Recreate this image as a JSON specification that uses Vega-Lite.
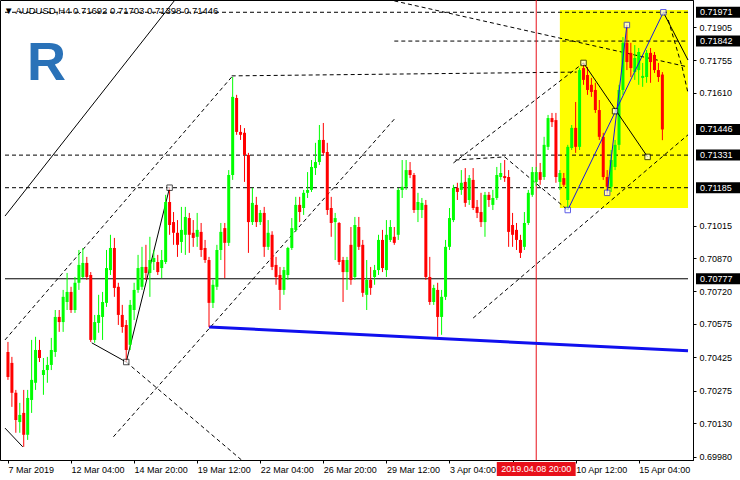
{
"$schema": "https://vega.github.io/schema/vega-lite/v6.json",
"width": 693, "height": 460,
"autosize": {"type": "none"},
"padding": {"left": 0, "top": 0, "right": 47, "bottom": 20},
"background": "white",
"config": {"view": {"stroke": "black", "strokeWidth": 1}, "font": "Liberation Sans"},
"title": {"text": "▼ AUDUSD,H4  0.71692 0.71703 0.71398 0.71446", "anchor": "start", "frame": "group", "offset": -16, "fontSize": 9.5, "fontWeight": "normal", "font": "Liberation Sans", "color": "black", "dx": 4},
"datasets": {
"candles": [
{"i":0,"o":0.70449,"h":0.70494,"l":0.70324,"c":0.70337},
{"i":1,"o":0.70400,"h":0.70427,"l":0.70203,"c":0.70266},
{"i":2,"o":0.70266,"h":0.70279,"l":0.70087,"c":0.70144},
{"i":3,"o":0.70135,"h":0.70221,"l":0.70087,"c":0.70167},
{"i":4,"o":0.70176,"h":0.70279,"l":0.70024,"c":0.70078},
{"i":5,"o":0.70078,"h":0.70279,"l":0.70055,"c":0.70243},
{"i":6,"o":0.70234,"h":0.70503,"l":0.70176,"c":0.70324},
{"i":7,"o":0.70311,"h":0.70517,"l":0.70279,"c":0.70458},
{"i":8,"o":0.70458,"h":0.70503,"l":0.70404,"c":0.70422},
{"i":9,"o":0.70346,"h":0.70422,"l":0.70257,"c":0.70368},
{"i":10,"o":0.70368,"h":0.70427,"l":0.70311,"c":0.70391},
{"i":11,"o":0.70391,"h":0.70512,"l":0.70368,"c":0.70458},
{"i":12,"o":0.70449,"h":0.70637,"l":0.70427,"c":0.70606},
{"i":13,"o":0.70606,"h":0.70637,"l":0.70539,"c":0.70583},
{"i":14,"o":0.70583,"h":0.70727,"l":0.70539,"c":0.70696},
{"i":15,"o":0.70673,"h":0.70803,"l":0.70637,"c":0.70718},
{"i":16,"o":0.70718,"h":0.70741,"l":0.70624,"c":0.70637},
{"i":17,"o":0.70637,"h":0.70785,"l":0.70624,"c":0.70759},
{"i":18,"o":0.70759,"h":0.70906,"l":0.70727,"c":0.70839},
{"i":19,"o":0.70785,"h":0.70915,"l":0.70780,"c":0.70848},
{"i":20,"o":0.70848,"h":0.70875,"l":0.70772,"c":0.70785},
{"i":21,"o":0.70794,"h":0.70807,"l":0.70494,"c":0.70503},
{"i":22,"o":0.70503,"h":0.70615,"l":0.70490,"c":0.70583},
{"i":23,"o":0.70579,"h":0.70705,"l":0.70535,"c":0.70615},
{"i":24,"o":0.70606,"h":0.70718,"l":0.70503,"c":0.70673},
{"i":25,"o":0.70669,"h":0.70906,"l":0.70651,"c":0.70825},
{"i":26,"o":0.70816,"h":0.70974,"l":0.70794,"c":0.70915},
{"i":27,"o":0.70915,"h":0.70960,"l":0.70696,"c":0.70736},
{"i":28,"o":0.70741,"h":0.70759,"l":0.70570,"c":0.70615},
{"i":29,"o":0.70615,"h":0.70660,"l":0.70535,"c":0.70561},
{"i":30,"o":0.70570,"h":0.70592,"l":0.70404,"c":0.70458},
{"i":31,"o":0.70481,"h":0.70682,"l":0.70458,"c":0.70660},
{"i":32,"o":0.70637,"h":0.70759,"l":0.70592,"c":0.70727},
{"i":33,"o":0.70727,"h":0.70884,"l":0.70714,"c":0.70825},
{"i":34,"o":0.70741,"h":0.70920,"l":0.70727,"c":0.70830},
{"i":35,"o":0.70830,"h":0.70929,"l":0.70772,"c":0.70803},
{"i":36,"o":0.70803,"h":0.70965,"l":0.70696,"c":0.70861},
{"i":37,"o":0.70852,"h":0.70906,"l":0.70816,"c":0.70870},
{"i":38,"o":0.70852,"h":0.70884,"l":0.70794,"c":0.70807},
{"i":39,"o":0.70825,"h":0.70906,"l":0.70780,"c":0.70861},
{"i":40,"o":0.70852,"h":0.71153,"l":0.70843,"c":0.71121},
{"i":41,"o":0.71121,"h":0.71185,"l":0.70974,"c":0.71018},
{"i":42,"o":0.71031,"h":0.71076,"l":0.70929,"c":0.70983},
{"i":43,"o":0.70983,"h":0.71040,"l":0.70875,"c":0.70929},
{"i":44,"o":0.70942,"h":0.71099,"l":0.70893,"c":0.70996},
{"i":45,"o":0.70974,"h":0.71099,"l":0.70884,"c":0.71054},
{"i":46,"o":0.71049,"h":0.71072,"l":0.70893,"c":0.70974},
{"i":47,"o":0.70983,"h":0.71040,"l":0.70920,"c":0.70960},
{"i":48,"o":0.70965,"h":0.71072,"l":0.70920,"c":0.70996},
{"i":49,"o":0.70987,"h":0.71027,"l":0.70875,"c":0.70906},
{"i":50,"o":0.70915,"h":0.70951,"l":0.70848,"c":0.70861},
{"i":51,"o":0.70861,"h":0.70875,"l":0.70561,"c":0.70669},
{"i":52,"o":0.70669,"h":0.70772,"l":0.70646,"c":0.70750},
{"i":53,"o":0.70741,"h":0.70929,"l":0.70727,"c":0.70906},
{"i":54,"o":0.70906,"h":0.71027,"l":0.70861,"c":0.70987},
{"i":55,"o":0.71004,"h":0.71027,"l":0.70780,"c":0.70938},
{"i":56,"o":0.70938,"h":0.71264,"l":0.70924,"c":0.71242},
{"i":57,"o":0.71242,"h":0.71681,"l":0.71220,"c":0.71592},
{"i":58,"o":0.71587,"h":0.71601,"l":0.71422,"c":0.71435},
{"i":59,"o":0.71435,"h":0.71466,"l":0.71399,"c":0.71422},
{"i":60,"o":0.71431,"h":0.71452,"l":0.71211,"c":0.71332},
{"i":61,"o":0.71332,"h":0.71341,"l":0.70893,"c":0.71031},
{"i":62,"o":0.71031,"h":0.71184,"l":0.71018,"c":0.71117},
{"i":63,"o":0.71108,"h":0.71144,"l":0.71009,"c":0.71031},
{"i":64,"o":0.71031,"h":0.71085,"l":0.71018,"c":0.71072},
{"i":65,"o":0.71072,"h":0.71099,"l":0.70875,"c":0.70920},
{"i":66,"o":0.70920,"h":0.71040,"l":0.70906,"c":0.70983},
{"i":67,"o":0.70974,"h":0.70990,"l":0.70816,"c":0.70830},
{"i":68,"o":0.70839,"h":0.70875,"l":0.70750,"c":0.70785},
{"i":69,"o":0.70794,"h":0.70830,"l":0.70637,"c":0.70727},
{"i":70,"o":0.70727,"h":0.70830,"l":0.70705,"c":0.70816},
{"i":71,"o":0.70794,"h":0.70920,"l":0.70772,"c":0.70915},
{"i":72,"o":0.70915,"h":0.71049,"l":0.70906,"c":0.71004},
{"i":73,"o":0.70996,"h":0.71144,"l":0.70987,"c":0.71108},
{"i":74,"o":0.71108,"h":0.71144,"l":0.71031,"c":0.71076},
{"i":75,"o":0.71094,"h":0.71175,"l":0.71063,"c":0.71162},
{"i":76,"o":0.71162,"h":0.71255,"l":0.71139,"c":0.71175},
{"i":77,"o":0.71175,"h":0.71309,"l":0.71166,"c":0.71278},
{"i":78,"o":0.71273,"h":0.71386,"l":0.71242,"c":0.71300},
{"i":79,"o":0.71300,"h":0.71466,"l":0.71287,"c":0.71399},
{"i":80,"o":0.71399,"h":0.71475,"l":0.71332,"c":0.71341},
{"i":81,"o":0.71345,"h":0.71386,"l":0.71063,"c":0.71085},
{"i":82,"o":0.71094,"h":0.71144,"l":0.70965,"c":0.71027},
{"i":83,"o":0.71031,"h":0.71072,"l":0.70861,"c":0.71049},
{"i":84,"o":0.71027,"h":0.71031,"l":0.70839,"c":0.70852},
{"i":85,"o":0.70861,"h":0.70875,"l":0.70673,"c":0.70807},
{"i":86,"o":0.70807,"h":0.70875,"l":0.70727,"c":0.70861},
{"i":87,"o":0.70929,"h":0.71009,"l":0.70750,"c":0.70772},
{"i":88,"o":0.70785,"h":0.71054,"l":0.70772,"c":0.71018},
{"i":89,"o":0.71009,"h":0.71054,"l":0.70906,"c":0.70920},
{"i":90,"o":0.70929,"h":0.70951,"l":0.70696,"c":0.70714},
{"i":91,"o":0.70705,"h":0.70861,"l":0.70637,"c":0.70772},
{"i":92,"o":0.70772,"h":0.70830,"l":0.70705,"c":0.70736},
{"i":93,"o":0.70785,"h":0.70839,"l":0.70750,"c":0.70816},
{"i":94,"o":0.70816,"h":0.70974,"l":0.70794,"c":0.70951},
{"i":95,"o":0.70951,"h":0.70996,"l":0.70807,"c":0.70825},
{"i":96,"o":0.70816,"h":0.71040,"l":0.70785,"c":0.70974},
{"i":97,"o":0.70951,"h":0.71040,"l":0.70942,"c":0.71009},
{"i":98,"o":0.70965,"h":0.71009,"l":0.70929,"c":0.70938},
{"i":99,"o":0.70974,"h":0.71184,"l":0.70951,"c":0.71175},
{"i":100,"o":0.71175,"h":0.71309,"l":0.71139,"c":0.71189},
{"i":101,"o":0.71189,"h":0.71309,"l":0.71175,"c":0.71264},
{"i":102,"o":0.71264,"h":0.71300,"l":0.71228,"c":0.71242},
{"i":103,"o":0.71242,"h":0.71251,"l":0.71072,"c":0.71085},
{"i":104,"o":0.71085,"h":0.71162,"l":0.71031,"c":0.71121},
{"i":105,"o":0.71085,"h":0.71139,"l":0.71049,"c":0.71117},
{"i":106,"o":0.71108,"h":0.71130,"l":0.70772,"c":0.70785},
{"i":107,"o":0.70785,"h":0.70875,"l":0.70660,"c":0.70673},
{"i":108,"o":0.70673,"h":0.70750,"l":0.70660,"c":0.70736},
{"i":109,"o":0.70727,"h":0.70759,"l":0.70517,"c":0.70606},
{"i":110,"o":0.70606,"h":0.70727,"l":0.70526,"c":0.70696},
{"i":111,"o":0.70696,"h":0.70951,"l":0.70682,"c":0.70920},
{"i":112,"o":0.70920,"h":0.71094,"l":0.70906,"c":0.71049},
{"i":113,"o":0.71040,"h":0.71198,"l":0.71031,"c":0.71184},
{"i":114,"o":0.71184,"h":0.71207,"l":0.71130,"c":0.71166},
{"i":115,"o":0.71175,"h":0.71264,"l":0.71153,"c":0.71207},
{"i":116,"o":0.71211,"h":0.71273,"l":0.71099,"c":0.71117},
{"i":117,"o":0.71130,"h":0.71242,"l":0.71108,"c":0.71228},
{"i":118,"o":0.71220,"h":0.71273,"l":0.71085,"c":0.71094},
{"i":119,"o":0.71099,"h":0.71130,"l":0.71049,"c":0.71072},
{"i":120,"o":0.71076,"h":0.71162,"l":0.71009,"c":0.71031},
{"i":121,"o":0.71031,"h":0.71166,"l":0.70965,"c":0.71153},
{"i":122,"o":0.71153,"h":0.71166,"l":0.71099,"c":0.71130},
{"i":123,"o":0.71108,"h":0.71175,"l":0.71085,"c":0.71139},
{"i":124,"o":0.71139,"h":0.71278,"l":0.71130,"c":0.71242},
{"i":125,"o":0.71233,"h":0.71296,"l":0.71220,"c":0.71251},
{"i":126,"o":0.71237,"h":0.71309,"l":0.71211,"c":0.71228},
{"i":127,"o":0.71233,"h":0.71264,"l":0.70920,"c":0.70987},
{"i":128,"o":0.71018,"h":0.71072,"l":0.70920,"c":0.70974},
{"i":129,"o":0.70996,"h":0.71027,"l":0.70906,"c":0.70951},
{"i":130,"o":0.70951,"h":0.70974,"l":0.70870,"c":0.70893},
{"i":131,"o":0.70920,"h":0.71076,"l":0.70906,"c":0.71027},
{"i":132,"o":0.71027,"h":0.71175,"l":0.71018,"c":0.71162},
{"i":133,"o":0.71153,"h":0.71278,"l":0.71144,"c":0.71255},
{"i":134,"o":0.71211,"h":0.71278,"l":0.71193,"c":0.71255},
{"i":135,"o":0.71255,"h":0.71296,"l":0.71198,"c":0.71220},
{"i":136,"o":0.71233,"h":0.71413,"l":0.71220,"c":0.71377},
{"i":137,"o":0.71368,"h":0.71511,"l":0.71354,"c":0.71497},
{"i":138,"o":0.71497,"h":0.71520,"l":0.71457,"c":0.71479},
{"i":139,"o":0.71488,"h":0.71520,"l":0.71207,"c":0.71233},
{"i":140,"o":0.71211,"h":0.71264,"l":0.71175,"c":0.71251},
{"i":141,"o":0.71228,"h":0.71251,"l":0.71189,"c":0.71198},
{"i":142,"o":0.71130,"h":0.71377,"l":0.71085,"c":0.71368},
{"i":143,"o":0.71363,"h":0.71466,"l":0.71354,"c":0.71453},
{"i":144,"o":0.71453,"h":0.71569,"l":0.71341,"c":0.71368},
{"i":145,"o":0.71368,"h":0.71721,"l":0.71354,"c":0.71712},
{"i":146,"o":0.71721,"h":0.71744,"l":0.71646,"c":0.71668},
{"i":147,"o":0.71690,"h":0.71726,"l":0.71601,"c":0.71623},
{"i":148,"o":0.71646,"h":0.71677,"l":0.71592,"c":0.71614},
{"i":149,"o":0.71623,"h":0.71655,"l":0.71520,"c":0.71533},
{"i":150,"o":0.71533,"h":0.71578,"l":0.71399,"c":0.71413},
{"i":151,"o":0.71413,"h":0.71431,"l":0.71220,"c":0.71233},
{"i":152,"o":0.71233,"h":0.71264,"l":0.71153,"c":0.71189},
{"i":153,"o":0.71189,"h":0.71354,"l":0.71166,"c":0.71309},
{"i":154,"o":0.71278,"h":0.71399,"l":0.71264,"c":0.71377},
{"i":155,"o":0.71377,"h":0.71646,"l":0.71354,"c":0.71623},
{"i":156,"o":0.71623,"h":0.71860,"l":0.71601,"c":0.71834},
{"i":157,"o":0.71834,"h":0.71914,"l":0.71712,"c":0.71748},
{"i":158,"o":0.71789,"h":0.71834,"l":0.71681,"c":0.71721},
{"i":159,"o":0.71703,"h":0.71824,"l":0.71668,"c":0.71766},
{"i":160,"o":0.71712,"h":0.71811,"l":0.71646,"c":0.71793},
{"i":161,"o":0.71677,"h":0.71744,"l":0.71637,"c":0.71686},
{"i":162,"o":0.71681,"h":0.71802,"l":0.71655,"c":0.71789},
{"i":163,"o":0.71789,"h":0.71811,"l":0.71655,"c":0.71748},
{"i":164,"o":0.71780,"h":0.71793,"l":0.71699,"c":0.71712},
{"i":165,"o":0.71712,"h":0.71744,"l":0.71659,"c":0.71681},
{"i":166,"o":0.71692,"h":0.71703,"l":0.71398,"c":0.71446}
],
"zone": [{"i1":140,"i2":172.5,"p1":0.71981,"p2":0.71094}],
"lines": [
{"x1":-0.75,"p1":0.70503,"x2":56.75,"p2":0.71681,"kind":"dash"},
{"x1":26.75,"p1":0.70069,"x2":98.5,"p2":0.71502,"kind":"dash"},
{"x1":30,"p1":0.70404,"x2":59.25,"p2":0.69965,"kind":"dash"},
{"x1":-0.75,"p1":0.71331,"x2":172.5,"p2":0.71331,"kind":"dash"},
{"x1":-0.75,"p1":0.71185,"x2":172.5,"p2":0.71185,"kind":"dash"},
{"x1":98,"p1":0.71842,"x2":172.5,"p2":0.71842,"kind":"dash"},
{"x1":-0.75,"p1":0.71971,"x2":172.5,"p2":0.71971,"kind":"dash"},
{"x1":56.75,"p1":0.71686,"x2":144.25,"p2":0.71703,"kind":"dash"},
{"x1":98,"p1":0.72022,"x2":172.5,"p2":0.71726,"kind":"dash"},
{"x1":113,"p1":0.71296,"x2":146,"p2":0.71744,"kind":"dash"},
{"x1":118,"p1":0.70601,"x2":172.5,"p2":0.71422,"kind":"dash"},
{"x1":113.5,"p1":0.71309,"x2":126,"p2":0.71323,"kind":"dash"},
{"x1":126,"p1":0.71323,"x2":142,"p2":0.71085,"kind":"dash"},
{"x1":167.5,"p1":0.71936,"x2":171,"p2":0.71726,"kind":"dash"},
{"x1":171,"p1":0.71726,"x2":172.5,"p2":0.71609,"kind":"dash"},
{"x1":-0.75,"p1":0.71058,"x2":42.35,"p2":0.72026,"kind":"solid"},
{"x1":21.25,"p1":0.70490,"x2":30,"p2":0.70404,"kind":"solid"},
{"x1":30,"p1":0.70404,"x2":41,"p2":0.71185,"kind":"solid"},
{"x1":-0.75,"p1":0.70108,"x2":3.75,"p2":0.70024,"kind":"solid"},
{"x1":-0.75,"p1":0.70777,"x2":172.5,"p2":0.70777,"kind":"solid"},
{"x1":51,"p1":0.70561,"x2":172.5,"p2":0.70454,"kind":"blue"},
{"x1":146,"p1":0.71744,"x2":162.25,"p2":0.71323,"kind":"zig"},
{"x1":166.25,"p1":0.71971,"x2":172.5,"p2":0.71757,"kind":"zig"},
{"x1":142,"p1":0.71085,"x2":166.25,"p2":0.71971,"kind":"wave"},
{"x1":152,"p1":0.71162,"x2":157,"p2":0.71914,"kind":"wave"}
],
"pivots": [
{"i":41,"p":0.71185,"kind":"black"},
{"i":30,"p":0.70404,"kind":"black"},
{"i":146,"p":0.71744,"kind":"black"},
{"i":154,"p":0.71528,"kind":"black"},
{"i":162.25,"p":0.71323,"kind":"black"},
{"i":142,"p":0.71085,"kind":"blue"},
{"i":152,"p":0.71162,"kind":"blue"},
{"i":157,"p":0.71914,"kind":"blue"},
{"i":166.25,"p":0.71971,"kind":"blue"}
],
"tags": [{"p":0.71971},{"p":0.71842},{"p":0.71446},{"p":0.71331},{"p":0.71185},{"p":0.70777}],
"cursor": [{"i":134,"label":"2019.04.08 20:00"}],
"logo": [{"i":9.75,"p":0.71739,"t":"R"}]
},
"layer": [
{"data": {"name": "zone"}, "mark": {"type": "rect", "color": "#ffff00", "clip": true},
 "encoding": {
  "x": {"field": "i1", "type": "quantitative", "scale": {"domain": [-0.75, 172.5], "nice": false, "zero": false},
   "axis": {"orient": "bottom", "values": [0,16,32,48,64,80,96,112,128,144,160], "labelExpr": "['7 Mar 2019','12 Mar 04:00','14 Mar 20:00','19 Mar 12:00','22 Mar 04:00','26 Mar 20:00','29 Mar 12:00','3 Apr 04:00','','10 Apr 12:00','15 Apr 04:00'][round(datum.value/16)]", "labelAlign": "left", "labelPadding": 2, "tickSize": 3, "labelFontSize": 9, "labelFont": "Liberation Sans", "labelColor": "black", "title": null, "grid": false, "labelOverlap": false, "labelFlush": false, "labelBound": false, "domainColor": "black", "tickColor": "black"}},
  "x2": {"field": "i2"},
  "y": {"field": "p1", "type": "quantitative", "scale": {"domain": [0.69965, 0.72026], "nice": false, "zero": false},
   "axis": {"orient": "right", "values": [0.71905,0.71755,0.71610,0.71015,0.70870,0.70720,0.70575,0.70425,0.70275,0.70130,0.69980], "format": ".5f", "labelFontSize": 9, "labelFont": "Liberation Sans", "labelColor": "black", "tickColor": "black", "tickSize": 3, "domainColor": "black", "labelPadding": 3, "labelOverlap": false, "labelFlush": false, "labelBound": false, "grid": false, "title": null}},
  "y2": {"field": "p2"}
 }},
{"data": {"name": "lines"}, "transform": [{"filter": "datum.kind == 'dash'"}],
 "mark": {"type": "rule", "color": "black", "strokeWidth": 1, "strokeDash": [4, 3], "clip": true},
 "encoding": {
  "x": {"field": "x1", "type": "quantitative", "scale": {"domain": [-0.75, 172.5], "nice": false, "zero": false},
   "axis": {"orient": "bottom", "values": [0,16,32,48,64,80,96,112,128,144,160], "labelExpr": "['7 Mar 2019','12 Mar 04:00','14 Mar 20:00','19 Mar 12:00','22 Mar 04:00','26 Mar 20:00','29 Mar 12:00','3 Apr 04:00','','10 Apr 12:00','15 Apr 04:00'][round(datum.value/16)]", "labelAlign": "left", "labelPadding": 2, "tickSize": 3, "labelFontSize": 9, "labelFont": "Liberation Sans", "labelColor": "black", "title": null, "grid": false, "labelOverlap": false, "labelFlush": false, "labelBound": false, "domainColor": "black", "tickColor": "black"}},
  "x2": {"field": "x2"},
  "y": {"field": "p1", "type": "quantitative", "scale": {"domain": [0.69965, 0.72026], "nice": false, "zero": false},
   "axis": {"orient": "right", "values": [0.71905,0.71755,0.71610,0.71015,0.70870,0.70720,0.70575,0.70425,0.70275,0.70130,0.69980], "format": ".5f", "labelFontSize": 9, "labelFont": "Liberation Sans", "labelColor": "black", "tickColor": "black", "tickSize": 3, "domainColor": "black", "labelPadding": 3, "labelOverlap": false, "labelFlush": false, "labelBound": false, "grid": false, "title": null}},
  "y2": {"field": "p2"}
 }},
{"data": {"name": "lines"}, "transform": [{"filter": "datum.kind == 'solid'"}],
 "mark": {"type": "rule", "color": "black", "strokeWidth": 1, "clip": true},
 "encoding": {
  "x": {"field": "x1", "type": "quantitative", "scale": {"domain": [-0.75, 172.5], "nice": false, "zero": false},
   "axis": {"orient": "bottom", "values": [0,16,32,48,64,80,96,112,128,144,160], "labelExpr": "['7 Mar 2019','12 Mar 04:00','14 Mar 20:00','19 Mar 12:00','22 Mar 04:00','26 Mar 20:00','29 Mar 12:00','3 Apr 04:00','','10 Apr 12:00','15 Apr 04:00'][round(datum.value/16)]", "labelAlign": "left", "labelPadding": 2, "tickSize": 3, "labelFontSize": 9, "labelFont": "Liberation Sans", "labelColor": "black", "title": null, "grid": false, "labelOverlap": false, "labelFlush": false, "labelBound": false, "domainColor": "black", "tickColor": "black"}},
  "x2": {"field": "x2"},
  "y": {"field": "p1", "type": "quantitative", "scale": {"domain": [0.69965, 0.72026], "nice": false, "zero": false},
   "axis": {"orient": "right", "values": [0.71905,0.71755,0.71610,0.71015,0.70870,0.70720,0.70575,0.70425,0.70275,0.70130,0.69980], "format": ".5f", "labelFontSize": 9, "labelFont": "Liberation Sans", "labelColor": "black", "tickColor": "black", "tickSize": 3, "domainColor": "black", "labelPadding": 3, "labelOverlap": false, "labelFlush": false, "labelBound": false, "grid": false, "title": null}},
  "y2": {"field": "p2"}
 }},
{"data": {"name": "cursor"}, "mark": {"type": "rule", "color": "#e8101a", "strokeWidth": 1},
 "encoding": {
  "x": {"field": "i", "type": "quantitative", "scale": {"domain": [-0.75, 172.5], "nice": false, "zero": false},
   "axis": {"orient": "bottom", "values": [0,16,32,48,64,80,96,112,128,144,160], "labelExpr": "['7 Mar 2019','12 Mar 04:00','14 Mar 20:00','19 Mar 12:00','22 Mar 04:00','26 Mar 20:00','29 Mar 12:00','3 Apr 04:00','','10 Apr 12:00','15 Apr 04:00'][round(datum.value/16)]", "labelAlign": "left", "labelPadding": 2, "tickSize": 3, "labelFontSize": 9, "labelFont": "Liberation Sans", "labelColor": "black", "title": null, "grid": false, "labelOverlap": false, "labelFlush": false, "labelBound": false, "domainColor": "black", "tickColor": "black"}}
 }},
{"data": {"name": "lines"}, "transform": [{"filter": "datum.kind == 'blue'"}],
 "mark": {"type": "rule", "color": "#1010ee", "strokeWidth": 3, "clip": true},
 "encoding": {
  "x": {"field": "x1", "type": "quantitative", "scale": {"domain": [-0.75, 172.5], "nice": false, "zero": false},
   "axis": {"orient": "bottom", "values": [0,16,32,48,64,80,96,112,128,144,160], "labelExpr": "['7 Mar 2019','12 Mar 04:00','14 Mar 20:00','19 Mar 12:00','22 Mar 04:00','26 Mar 20:00','29 Mar 12:00','3 Apr 04:00','','10 Apr 12:00','15 Apr 04:00'][round(datum.value/16)]", "labelAlign": "left", "labelPadding": 2, "tickSize": 3, "labelFontSize": 9, "labelFont": "Liberation Sans", "labelColor": "black", "title": null, "grid": false, "labelOverlap": false, "labelFlush": false, "labelBound": false, "domainColor": "black", "tickColor": "black"}},
  "x2": {"field": "x2"},
  "y": {"field": "p1", "type": "quantitative", "scale": {"domain": [0.69965, 0.72026], "nice": false, "zero": false},
   "axis": {"orient": "right", "values": [0.71905,0.71755,0.71610,0.71015,0.70870,0.70720,0.70575,0.70425,0.70275,0.70130,0.69980], "format": ".5f", "labelFontSize": 9, "labelFont": "Liberation Sans", "labelColor": "black", "tickColor": "black", "tickSize": 3, "domainColor": "black", "labelPadding": 3, "labelOverlap": false, "labelFlush": false, "labelBound": false, "grid": false, "title": null}},
  "y2": {"field": "p2"}
 }},
{"data": {"name": "candles"}, "mark": {"type": "rule", "strokeWidth": 1},
 "encoding": {
  "x": {"field": "i", "type": "quantitative", "scale": {"domain": [-0.75, 172.5], "nice": false, "zero": false},
   "axis": {"orient": "bottom", "values": [0,16,32,48,64,80,96,112,128,144,160], "labelExpr": "['7 Mar 2019','12 Mar 04:00','14 Mar 20:00','19 Mar 12:00','22 Mar 04:00','26 Mar 20:00','29 Mar 12:00','3 Apr 04:00','','10 Apr 12:00','15 Apr 04:00'][round(datum.value/16)]", "labelAlign": "left", "labelPadding": 2, "tickSize": 3, "labelFontSize": 9, "labelFont": "Liberation Sans", "labelColor": "black", "title": null, "grid": false, "labelOverlap": false, "labelFlush": false, "labelBound": false, "domainColor": "black", "tickColor": "black"}},
  "y": {"field": "l", "type": "quantitative", "scale": {"domain": [0.69965, 0.72026], "nice": false, "zero": false},
   "axis": {"orient": "right", "values": [0.71905,0.71755,0.71610,0.71015,0.70870,0.70720,0.70575,0.70425,0.70275,0.70130,0.69980], "format": ".5f", "labelFontSize": 9, "labelFont": "Liberation Sans", "labelColor": "black", "tickColor": "black", "tickSize": 3, "domainColor": "black", "labelPadding": 3, "labelOverlap": false, "labelFlush": false, "labelBound": false, "grid": false, "title": null}},
  "y2": {"field": "h"},
  "color": {"condition": {"test": "datum.c >= datum.o", "value": "#00ff00"}, "value": "#ff0000"}
 }},
{"data": {"name": "candles"}, "mark": {"type": "bar", "width": 3},
 "encoding": {
  "x": {"field": "i", "type": "quantitative", "scale": {"domain": [-0.75, 172.5], "nice": false, "zero": false},
   "axis": {"orient": "bottom", "values": [0,16,32,48,64,80,96,112,128,144,160], "labelExpr": "['7 Mar 2019','12 Mar 04:00','14 Mar 20:00','19 Mar 12:00','22 Mar 04:00','26 Mar 20:00','29 Mar 12:00','3 Apr 04:00','','10 Apr 12:00','15 Apr 04:00'][round(datum.value/16)]", "labelAlign": "left", "labelPadding": 2, "tickSize": 3, "labelFontSize": 9, "labelFont": "Liberation Sans", "labelColor": "black", "title": null, "grid": false, "labelOverlap": false, "labelFlush": false, "labelBound": false, "domainColor": "black", "tickColor": "black"}},
  "y": {"field": "o", "type": "quantitative", "scale": {"domain": [0.69965, 0.72026], "nice": false, "zero": false},
   "axis": {"orient": "right", "values": [0.71905,0.71755,0.71610,0.71015,0.70870,0.70720,0.70575,0.70425,0.70275,0.70130,0.69980], "format": ".5f", "labelFontSize": 9, "labelFont": "Liberation Sans", "labelColor": "black", "tickColor": "black", "tickSize": 3, "domainColor": "black", "labelPadding": 3, "labelOverlap": false, "labelFlush": false, "labelBound": false, "grid": false, "title": null}},
  "y2": {"field": "c"},
  "color": {"condition": {"test": "datum.c >= datum.o", "value": "#00ff00"}, "value": "#ff0000"}
 }},
{"data": {"name": "lines"}, "transform": [{"filter": "datum.kind == 'zig'"}],
 "mark": {"type": "rule", "color": "black", "strokeWidth": 1, "clip": true},
 "encoding": {
  "x": {"field": "x1", "type": "quantitative", "scale": {"domain": [-0.75, 172.5], "nice": false, "zero": false},
   "axis": {"orient": "bottom", "values": [0,16,32,48,64,80,96,112,128,144,160], "labelExpr": "['7 Mar 2019','12 Mar 04:00','14 Mar 20:00','19 Mar 12:00','22 Mar 04:00','26 Mar 20:00','29 Mar 12:00','3 Apr 04:00','','10 Apr 12:00','15 Apr 04:00'][round(datum.value/16)]", "labelAlign": "left", "labelPadding": 2, "tickSize": 3, "labelFontSize": 9, "labelFont": "Liberation Sans", "labelColor": "black", "title": null, "grid": false, "labelOverlap": false, "labelFlush": false, "labelBound": false, "domainColor": "black", "tickColor": "black"}},
  "x2": {"field": "x2"},
  "y": {"field": "p1", "type": "quantitative", "scale": {"domain": [0.69965, 0.72026], "nice": false, "zero": false},
   "axis": {"orient": "right", "values": [0.71905,0.71755,0.71610,0.71015,0.70870,0.70720,0.70575,0.70425,0.70275,0.70130,0.69980], "format": ".5f", "labelFontSize": 9, "labelFont": "Liberation Sans", "labelColor": "black", "tickColor": "black", "tickSize": 3, "domainColor": "black", "labelPadding": 3, "labelOverlap": false, "labelFlush": false, "labelBound": false, "grid": false, "title": null}},
  "y2": {"field": "p2"}
 }},
{"data": {"name": "lines"}, "transform": [{"filter": "datum.kind == 'wave'"}],
 "mark": {"type": "rule", "color": "#1a1adf", "strokeWidth": 1, "clip": true},
 "encoding": {
  "x": {"field": "x1", "type": "quantitative", "scale": {"domain": [-0.75, 172.5], "nice": false, "zero": false},
   "axis": {"orient": "bottom", "values": [0,16,32,48,64,80,96,112,128,144,160], "labelExpr": "['7 Mar 2019','12 Mar 04:00','14 Mar 20:00','19 Mar 12:00','22 Mar 04:00','26 Mar 20:00','29 Mar 12:00','3 Apr 04:00','','10 Apr 12:00','15 Apr 04:00'][round(datum.value/16)]", "labelAlign": "left", "labelPadding": 2, "tickSize": 3, "labelFontSize": 9, "labelFont": "Liberation Sans", "labelColor": "black", "title": null, "grid": false, "labelOverlap": false, "labelFlush": false, "labelBound": false, "domainColor": "black", "tickColor": "black"}},
  "x2": {"field": "x2"},
  "y": {"field": "p1", "type": "quantitative", "scale": {"domain": [0.69965, 0.72026], "nice": false, "zero": false},
   "axis": {"orient": "right", "values": [0.71905,0.71755,0.71610,0.71015,0.70870,0.70720,0.70575,0.70425,0.70275,0.70130,0.69980], "format": ".5f", "labelFontSize": 9, "labelFont": "Liberation Sans", "labelColor": "black", "tickColor": "black", "tickSize": 3, "domainColor": "black", "labelPadding": 3, "labelOverlap": false, "labelFlush": false, "labelBound": false, "grid": false, "title": null}},
  "y2": {"field": "p2"}
 }},
{"data": {"name": "pivots"}, "mark": {"type": "point", "shape": "square", "filled": true, "size": 30, "strokeWidth": 1, "fill": "white"},
 "encoding": {
  "x": {"field": "i", "type": "quantitative", "scale": {"domain": [-0.75, 172.5], "nice": false, "zero": false},
   "axis": {"orient": "bottom", "values": [0,16,32,48,64,80,96,112,128,144,160], "labelExpr": "['7 Mar 2019','12 Mar 04:00','14 Mar 20:00','19 Mar 12:00','22 Mar 04:00','26 Mar 20:00','29 Mar 12:00','3 Apr 04:00','','10 Apr 12:00','15 Apr 04:00'][round(datum.value/16)]", "labelAlign": "left", "labelPadding": 2, "tickSize": 3, "labelFontSize": 9, "labelFont": "Liberation Sans", "labelColor": "black", "title": null, "grid": false, "labelOverlap": false, "labelFlush": false, "labelBound": false, "domainColor": "black", "tickColor": "black"}},
  "y": {"field": "p", "type": "quantitative", "scale": {"domain": [0.69965, 0.72026], "nice": false, "zero": false},
   "axis": {"orient": "right", "values": [0.71905,0.71755,0.71610,0.71015,0.70870,0.70720,0.70575,0.70425,0.70275,0.70130,0.69980], "format": ".5f", "labelFontSize": 9, "labelFont": "Liberation Sans", "labelColor": "black", "tickColor": "black", "tickSize": 3, "domainColor": "black", "labelPadding": 3, "labelOverlap": false, "labelFlush": false, "labelBound": false, "grid": false, "title": null}},
  "stroke": {"field": "kind", "type": "nominal", "scale": {"domain": ["black", "blue"], "range": ["#000000", "#1a1adf"]}, "legend": null}
 }},
{"data": {"name": "logo"}, "mark": {"type": "text", "font": "Liberation Sans", "fontWeight": "bold", "fontSize": 54, "color": "#2a72b8", "baseline": "middle", "align": "center"},
 "encoding": {
  "x": {"field": "i", "type": "quantitative", "scale": {"domain": [-0.75, 172.5], "nice": false, "zero": false},
   "axis": {"orient": "bottom", "values": [0,16,32,48,64,80,96,112,128,144,160], "labelExpr": "['7 Mar 2019','12 Mar 04:00','14 Mar 20:00','19 Mar 12:00','22 Mar 04:00','26 Mar 20:00','29 Mar 12:00','3 Apr 04:00','','10 Apr 12:00','15 Apr 04:00'][round(datum.value/16)]", "labelAlign": "left", "labelPadding": 2, "tickSize": 3, "labelFontSize": 9, "labelFont": "Liberation Sans", "labelColor": "black", "title": null, "grid": false, "labelOverlap": false, "labelFlush": false, "labelBound": false, "domainColor": "black", "tickColor": "black"}},
  "y": {"field": "p", "type": "quantitative", "scale": {"domain": [0.69965, 0.72026], "nice": false, "zero": false},
   "axis": {"orient": "right", "values": [0.71905,0.71755,0.71610,0.71015,0.70870,0.70720,0.70575,0.70425,0.70275,0.70130,0.69980], "format": ".5f", "labelFontSize": 9, "labelFont": "Liberation Sans", "labelColor": "black", "tickColor": "black", "tickSize": 3, "domainColor": "black", "labelPadding": 3, "labelOverlap": false, "labelFlush": false, "labelBound": false, "grid": false, "title": null}},
  "text": {"field": "t"}
 }},
{"data": {"name": "tags"}, "mark": {"type": "rule", "color": "black", "strokeWidth": 11, "strokeCap": "butt"},
 "encoding": {
  "x": {"value": 696},
  "x2": {"value": 740},
  "y": {"field": "p", "type": "quantitative", "scale": {"domain": [0.69965, 0.72026], "nice": false, "zero": false},
   "axis": {"orient": "right", "values": [0.71905,0.71755,0.71610,0.71015,0.70870,0.70720,0.70575,0.70425,0.70275,0.70130,0.69980], "format": ".5f", "labelFontSize": 9, "labelFont": "Liberation Sans", "labelColor": "black", "tickColor": "black", "tickSize": 3, "domainColor": "black", "labelPadding": 3, "labelOverlap": false, "labelFlush": false, "labelBound": false, "grid": false, "title": null}}
 }},
{"data": {"name": "tags"}, "mark": {"type": "text", "color": "white", "font": "Liberation Sans", "fontSize": 9, "align": "left", "baseline": "middle"},
 "encoding": {
  "x": {"value": 700},
  "y": {"field": "p", "type": "quantitative", "scale": {"domain": [0.69965, 0.72026], "nice": false, "zero": false},
   "axis": {"orient": "right", "values": [0.71905,0.71755,0.71610,0.71015,0.70870,0.70720,0.70575,0.70425,0.70275,0.70130,0.69980], "format": ".5f", "labelFontSize": 9, "labelFont": "Liberation Sans", "labelColor": "black", "tickColor": "black", "tickSize": 3, "domainColor": "black", "labelPadding": 3, "labelOverlap": false, "labelFlush": false, "labelBound": false, "grid": false, "title": null}},
  "text": {"field": "p", "type": "quantitative", "format": ".5f"}
 }},
{"data": {"name": "cursor"}, "mark": {"type": "rule", "color": "#e8101a", "strokeWidth": 14, "strokeCap": "butt"},
 "encoding": {
  "x": {"datum": 124, "type": "quantitative", "scale": {"domain": [-0.75, 172.5], "nice": false, "zero": false},
   "axis": {"orient": "bottom", "values": [0,16,32,48,64,80,96,112,128,144,160], "labelExpr": "['7 Mar 2019','12 Mar 04:00','14 Mar 20:00','19 Mar 12:00','22 Mar 04:00','26 Mar 20:00','29 Mar 12:00','3 Apr 04:00','','10 Apr 12:00','15 Apr 04:00'][round(datum.value/16)]", "labelAlign": "left", "labelPadding": 2, "tickSize": 3, "labelFontSize": 9, "labelFont": "Liberation Sans", "labelColor": "black", "title": null, "grid": false, "labelOverlap": false, "labelFlush": false, "labelBound": false, "domainColor": "black", "tickColor": "black"}},
  "x2": {"datum": 144},
  "y": {"value": 469}
 }},
{"data": {"name": "cursor"}, "mark": {"type": "text", "color": "white", "font": "Liberation Sans", "fontSize": 9, "align": "center", "baseline": "middle"},
 "encoding": {
  "x": {"field": "i", "type": "quantitative", "scale": {"domain": [-0.75, 172.5], "nice": false, "zero": false},
   "axis": {"orient": "bottom", "values": [0,16,32,48,64,80,96,112,128,144,160], "labelExpr": "['7 Mar 2019','12 Mar 04:00','14 Mar 20:00','19 Mar 12:00','22 Mar 04:00','26 Mar 20:00','29 Mar 12:00','3 Apr 04:00','','10 Apr 12:00','15 Apr 04:00'][round(datum.value/16)]", "labelAlign": "left", "labelPadding": 2, "tickSize": 3, "labelFontSize": 9, "labelFont": "Liberation Sans", "labelColor": "black", "title": null, "grid": false, "labelOverlap": false, "labelFlush": false, "labelBound": false, "domainColor": "black", "tickColor": "black"}},
  "y": {"value": 469},
  "text": {"field": "label"}
 }}
]
}
